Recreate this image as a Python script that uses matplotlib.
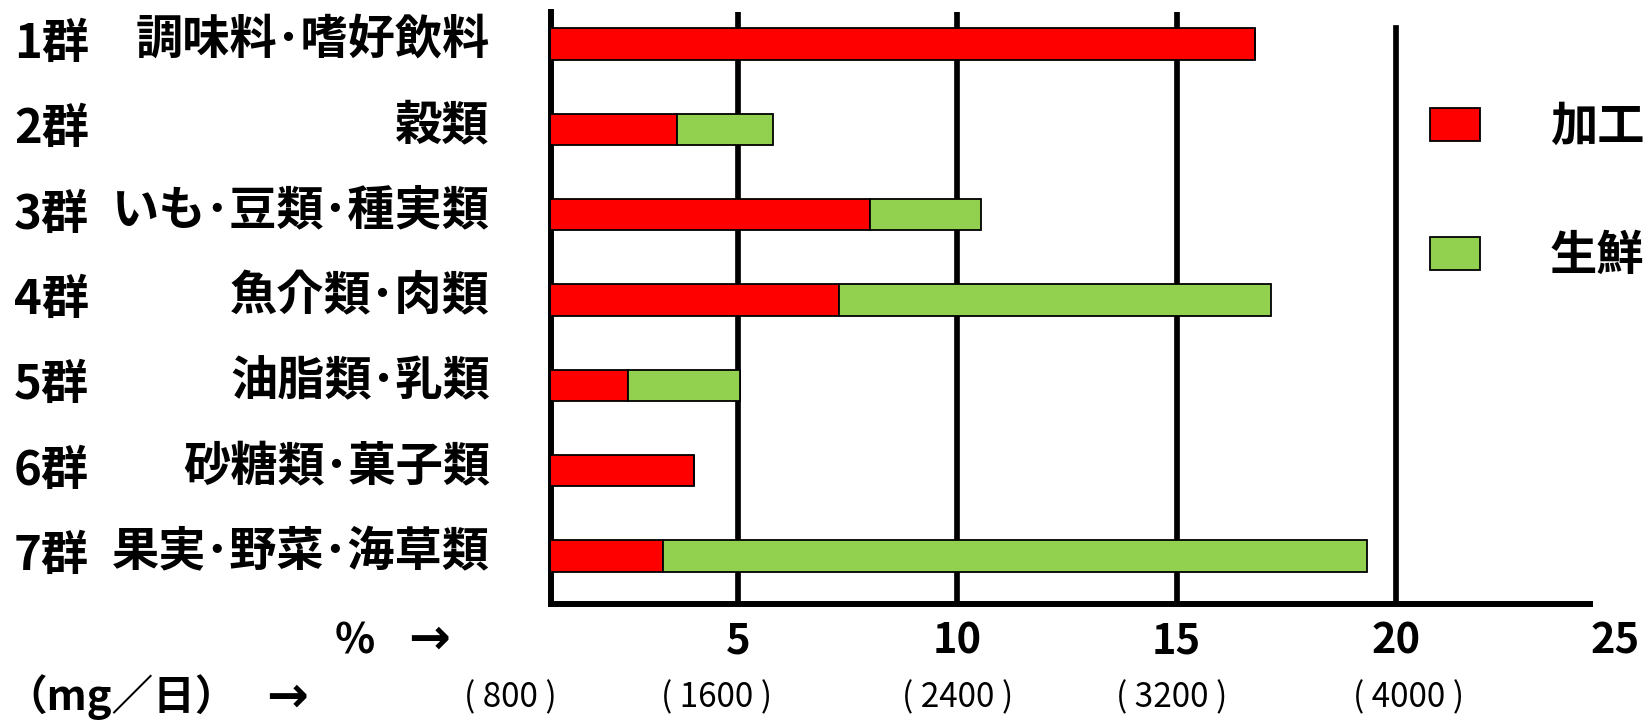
import matplotlib
matplotlib.use("Agg")
import matplotlib.pyplot as plt
import matplotlib.transforms as mtransforms

plt.rcParams['font.family'] = ['Noto Sans CJK JP', 'DejaVu Sans']

# 食品群ごとの値（％）
groups = ["1群", "2群", "3群", "4群", "5群", "6群", "7群"]
foods = ["調味料･嗜好飲料", "穀類", "いも･豆類･種実類", "魚介類･肉類",
         "油脂類･乳類", "砂糖類･菓子類", "果実･野菜･海草類"]
processed = [16.8, 3.6, 8.0, 7.3, 2.5, 4.0, 3.3]
fresh = [0, 2.2, 2.55, 9.85, 2.55, 0, 16.05]
series_names = ["加工", "生鮮"]

pct_ticks = [5, 10, 15, 20, 25]
grid_vals = [5, 10, 15, 20]
mg_labels = ["( 800 )", "( 1600 )", "( 2400 )", "( 3200 )", "( 4000 )"]
mg_pos = [-0.2, 4.5, 10.0, 14.9, 20.3]

W, H = 1647, 720
fig = plt.figure(figsize=(W / 100, H / 100), dpi=100)
ax = fig.add_axes([551 / W, 116 / H, 1086 / W, 592 / H])

y = list(range(len(foods)))
red = ax.barh(y, processed, height=0.37, color='#ff0000', edgecolor='black',
              linewidth=1.3, label=series_names[0], zorder=3)
green = ax.barh(y, fresh, left=processed, height=0.37, color='#92d050',
                edgecolor='black', linewidth=1.3, label=series_names[1], zorder=3)

ax.set_xlim(0.736, 25.5)
ax.set_ylim(6.5625, -0.375)

# 縦の目盛線（20 の線だけ少し短い）
for v in grid_vals:
    ax.axvline(v, ymax=0.973 if v == 20 else 1, color='black', lw=4.1, zorder=1)

for s in ['top', 'right']:
    ax.spines[s].set_visible(False)
for s in ['left', 'bottom']:
    ax.spines[s].set_linewidth(4.3)
ax.spines['bottom'].set_bounds(0.736, 24.43)

ax.set_xticks(pct_ticks, [str(v) for v in pct_ticks], fontsize=30, fontweight='bold')
ax.tick_params(axis='x', length=0, pad=12)
ax.set_yticks(y, foods, fontsize=34, fontweight='bold')
ax.tick_params(axis='y', length=0, pad=44)
shift_up = mtransforms.ScaledTranslation(0, 0.09, fig.dpi_scale_trans)
for lab in ax.get_yticklabels():
    lab.set_transform(lab.get_transform() + shift_up)

trans = mtransforms.blended_transform_factory(fig.transFigure, ax.transData)
for i, g in enumerate(groups):
    ax.text(14 / W, i, g, transform=trans, ha='left', va='center',
            fontsize=34, fontweight='bold')

ax.legend(handles=[red, green], loc='upper left',
          bbox_to_anchor=(1430 / W, 1 - 103 / H), bbox_transform=fig.transFigure,
          frameon=False, prop={'size': 34, 'weight': 'bold'},
          handlelength=1.06, handleheight=0.7, handletextpad=1.48,
          labelspacing=1.72, borderpad=0, borderaxespad=0)

# 下の単位表示
fig.text(355 / W, 1 - 642 / H, "%", ha='center', va='center', fontsize=30, fontweight='bold')
fig.text(429 / W, 1 - 640 / H, "→", ha='center', va='center', fontsize=36,
         fontweight='bold', family='DejaVu Sans')
fig.text(121 / W, 1 - 697 / H, "（mg／日）", ha='center', va='center', fontsize=30, fontweight='bold')
fig.text(287 / W, 1 - 698 / H, "→", ha='center', va='center', fontsize=36,
         fontweight='bold', family='DejaVu Sans')

trans_mg = mtransforms.blended_transform_factory(ax.transData, fig.transFigure)
for p, lab in zip(mg_pos, mg_labels):
    ax.text(p, 1 - 698 / H, lab, transform=trans_mg, ha='center', va='center',
            fontsize=24)

fig.savefig("out.png", dpi=100)
